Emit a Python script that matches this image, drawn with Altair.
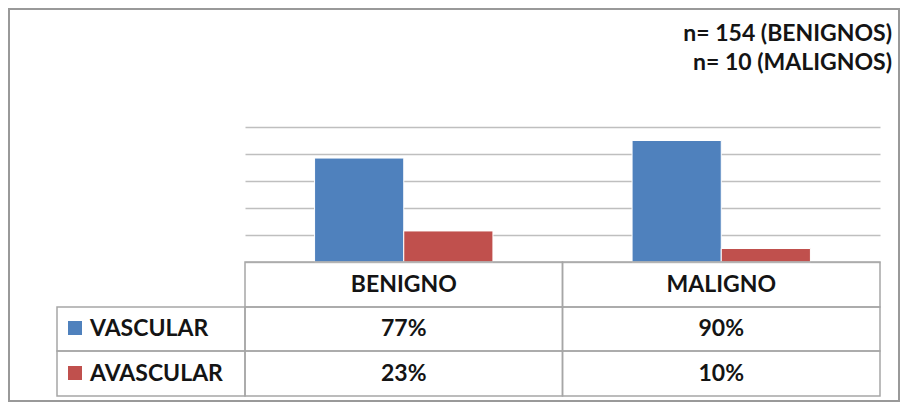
import altair as alt
import pandas as pd

categories = ["BENIGNO", "MALIGNO"]
series = ["VASCULAR", "AVASCULAR"]
vascular = [77, 90]
avascular = [23, 10]
labels_vascular = ["77%", "90%"]
labels_avascular = ["23%", "10%"]
notes = ["n= 154 (BENIGNOS)", "n= 10 (MALIGNOS)"]
colors = ["#4F81BD", "#C0504D"]
y_ticks = [0, 20, 40, 60, 80, 100]

rows = []
for i, c in enumerate(categories):
    rows.append({"cat": c, "series": series[0], "value": vascular[i], "label": labels_vascular[i]})
    rows.append({"cat": c, "series": series[1], "value": avascular[i], "label": labels_avascular[i]})
df = pd.DataFrame(rows)
cat_df = pd.DataFrame({"cat": categories})
ser_df = pd.DataFrame({"series": series})
one = pd.DataFrame({"k": [0]})

W, H = 635, 135
FONT = "Lato"
GRID = "#a6a6a6"
TXT = "#141414"

xscale = alt.Scale(domain=categories, paddingInner=0, paddingOuter=0)
X = alt.X("cat:N", scale=xscale, axis=None, sort=categories)
color = alt.Color("series:N", scale=alt.Scale(domain=series, range=colors), legend=None)

bars = alt.Chart(df).mark_bar(stroke="white", strokeWidth=1).encode(
    x=X,
    xOffset=alt.XOffset("series:N", sort=series,
                        scale=alt.Scale(domain=series, paddingInner=0, paddingOuter=0.78)),
    y=alt.Y("value:Q", scale=alt.Scale(domain=[0, 100]),
            axis=alt.Axis(values=y_ticks, labels=False, ticks=False, domain=False,
                          grid=True, gridColor="#bfbfbf", gridWidth=1.5, title=None)),
    color=color,
)

# table rows (header, vascular, avascular)
row_top = [135, 180, 224]
row_bot = [180, 224, 269]

cell_layers = []
for r in range(3):
    cell_layers.append(
        alt.Chart(cat_df).mark_rect(fillOpacity=0, stroke=GRID, strokeWidth=1.5).encode(
            x=X, y=alt.value(row_top[r]), y2=alt.value(row_bot[r])
        )
    )
for r in range(1, 3):
    cell_layers.append(
        alt.Chart(one).mark_rect(fillOpacity=0, stroke=GRID, strokeWidth=1.5).encode(
            x=alt.value(-188), x2=alt.value(0), y=alt.value(row_top[r]), y2=alt.value(row_bot[r])
        )
    )

header_text = alt.Chart(cat_df).mark_text(font=FONT, fontSize=23, fontWeight="bold",
                                          color=TXT, baseline="middle").encode(
    x=X, y=alt.value(158), text="cat:N"
)

row_mid = [202, 247]
value_layers = []
for j, s in enumerate(series):
    value_layers.append(
        alt.Chart(df).transform_filter(alt.datum.series == s).mark_text(
            font=FONT, fontSize=23, fontWeight="bold", color=TXT, baseline="middle"
        ).encode(x=X, y=alt.value(row_mid[j]), text="label:N")
    )
    value_layers.append(
        alt.Chart(ser_df).transform_filter(alt.datum.series == s).mark_text(
            font=FONT, fontSize=23, fontWeight="bold", color=TXT, baseline="middle", align="left"
        ).encode(x=alt.value(-155), y=alt.value(row_mid[j]), text="series:N")
    )
    value_layers.append(
        alt.Chart(ser_df).transform_filter(alt.datum.series == s).mark_square(
            size=196, opacity=1, filled=True
        ).encode(x=alt.value(-170), y=alt.value(row_mid[j] - 1), color=color)
    )

note_layers = []
note_y = [-86, -57]
for i, n in enumerate(notes):
    note_layers.append(
        alt.Chart(pd.DataFrame({"t": [n]})).mark_text(
            font=FONT, fontSize=23, fontWeight="bold", color=TXT,
            align="right", baseline="alphabetic"
        ).encode(x=alt.value(647), y=alt.value(note_y[i]), text="t:N")
    )

border = alt.Chart(one).mark_rect(fillOpacity=0, stroke="#999999", strokeWidth=2).encode(
    x=alt.value(-236), x2=alt.value(654), y=alt.value(-118), y2=alt.value(274)
)

chart = alt.layer(bars, *cell_layers, header_text, *value_layers, *note_layers, border).properties(
    width=W, height=H,
    autosize=alt.AutoSizeParams(type="none"),
    padding={"left": 237, "top": 119, "right": 20, "bottom": 140},
    background="white",
).configure_view(stroke=None)

chart.save("out.html", embed_options={"renderer": "svg", "actions": False})
